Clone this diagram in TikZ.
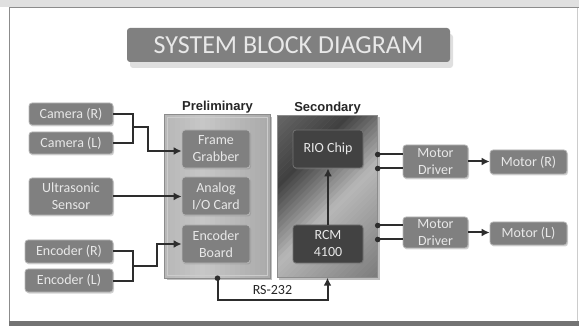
\documentclass[tikz,border=0pt]{standalone}
\usepackage{fontspec}
\newfontfamily\carlito{Carlito}
\newfontfamily\arialfont{Liberation Sans}
\usetikzlibrary{calc,shadows,arrows.meta}
\definecolor{wireGray}{RGB}{45,45,45}
\definecolor{textLight}{RGB}{232,232,232}

\tikzset{
    sz/.style 2 args={minimum width=#1, minimum height=#2},
    blk/.style={rounded corners=3pt, draw=black!28, line width=.8pt, fill=black!50,
        text=textLight, font=\carlito\fontsize{14}{17}\selectfont, align=center, inner sep=0pt,
        drop shadow={shadow xshift=1pt, shadow yshift=-1.5pt, opacity=.35}},
    dblk/.style={blk, fill=black!74, draw=black!55},
    panel/.style={inner sep=0pt},
    pframe/.style={draw=black!45, line width=1pt},
    pshadow/.style={fill=black, opacity=.25},
    plabel/.style={font=\arialfont\bfseries\fontsize{13}{13}\selectfont, text=black!85, inner sep=1pt},
    wire/.style={draw=wireGray, line width=2pt},
    arr/.style={wire, -{Latex[length=8pt,width=8pt]}},
    dot/.style={fill=wireGray}
}

\begin{document}
\begin{tikzpicture}[x=1pt, y=1pt]
    \useasboundingbox (0,0) rectangle (579,-326);
    % outer frame
    \fill[black!12] (0,0) rectangle (579,-7);
    \draw[black!45, line width=1pt] (9,-326) -- (9,-8) -- (579,-8);
    \fill[black!55] (9,-321) rectangle (579,-326);
    \draw[black!20] (577,-8) -- (577,-321);

    % title
    \node[rounded corners=3pt, fill=black!50, text=textLight, sz={323pt}{34pt},
        font=\carlito\fontsize{26}{26}\selectfont,
        drop shadow={shadow xshift=3pt, shadow yshift=-6pt, opacity=.25}] (title) at (288.5,-45) {SYSTEM BLOCK DIAGRAM};

    % panels
    \node[panel, sz={105pt}{163pt}] (prelim) at (217.5,-196.5) {};
    \node[panel, sz={100pt}{162pt}] (second) at (327.5,-196.5) {};
    \fill[pshadow] ([shift={(2,-2)}]prelim.south west) rectangle ([shift={(2,-2)}]prelim.north east);
    \fill[pshadow] ([shift={(2,-2)}]second.south west) rectangle ([shift={(2,-2)}]second.north east);

    % preliminary: light grey, slightly brighter on the left
    \begin{scope}
        \clip (prelim.south west) rectangle (prelim.north east);
        \foreach \i in {0,...,21} {
            \pgfmathsetmacro{\c}{22+12*abs(\i-7)/14}
            \fill[black!\c] ($(prelim.south west)+(5*\i,0)$) rectangle ($(prelim.north west)+(5*\i+5.4,0)$);
        }
    \end{scope}
    \draw[white!80!black, line width=1pt] ([shift={(3,3)}]prelim.south west) rectangle ([shift={(-3,-3)}]prelim.north east);
    \draw[pframe] (prelim.south west) rectangle (prelim.north east);

    % secondary: dark, with a light diagonal band
    \begin{scope}
        \clip (second.south west) rectangle (second.north east);
        \begin{scope}[shift={(second.center)}, rotate=45]
            \foreach \i in {0,...,47} {
                \pgfmathsetmacro{\s}{-96+4*\i}
                \pgfmathsetmacro{\c}{\s<-14 ? 52-24*(\s+96)/82 : (\s<40 ? 28+47*(\s+14)/54 : 75-17*(\s-40)/56)}
                \fill[black!\c] (-130,\s) rectangle (130,\s+4.4);
            }
        \end{scope}
    \end{scope}
    \draw[pframe] (second.south west) rectangle (second.north east);

    \node[plabel, above] at (prelim.north) {Preliminary};
    \node[plabel, above] at (second.north) {Secondary};

    % inputs
    \node[blk, sz={84pt}{22pt}] (camR) at (71,-114) {Camera (R)};
    \node[blk, sz={84pt}{22pt}] (camL) at (71,-143) {Camera (L)};
    \node[blk, sz={84pt}{37pt}] (ultra) at (71,-196.5) {Ultrasonic\\Sensor};
    \node[blk, sz={88pt}{23pt}] (encR) at (69,-251.5) {Encoder (R)};
    \node[blk, sz={88pt}{23pt}] (encL) at (69,-280.5) {Encoder (L)};

    % preliminary boards
    \node[blk, sz={68pt}{38pt}] (frame) at (216,-149) {Frame\\Grabber};
    \node[blk, sz={68pt}{38pt}] (analog) at (216,-196) {Analog\\I/O Card};
    \node[blk, sz={68pt}{38pt}] (encb) at (216,-244) {Encoder\\Board};

    % secondary
    \node[dblk, sz={70pt}{38pt}] (rio) at (328,-149) {RIO Chip};
    \node[dblk, sz={70pt}{38pt}] (rcm) at (328,-244) {RCM\\4100};

    % outputs
    \node[blk, sz={65pt}{33pt}] (drvR) at (435.5,-161.5) {Motor\\Driver};
    \node[blk, sz={65pt}{31pt}] (drvL) at (435.5,-232.5) {Motor\\Driver};
    \node[blk, sz={77pt}{24pt}] (motR) at (528.5,-162) {Motor (R)};
    \node[blk, sz={77pt}{23pt}] (motL) at (528.5,-233.5) {Motor (L)};

    % junctions
    \coordinate (camJ) at (133,-127);
    \coordinate (camK) at (148,-127);
    \coordinate (encJ) at (133,-266);
    \coordinate (encK) at (157,-266);
    \coordinate (rsC) at ($(prelim.south)+(0,-22)$);
    \coordinate (oR1) at ($(second.east |- drvR.west)+(0,7)$);
    \coordinate (oR2) at ($(second.east |- drvR.west)+(0,-7)$);
    \coordinate (oL1) at ($(second.east |- drvL.west)+(0,7)$);
    \coordinate (oL2) at ($(second.east |- drvL.west)+(0,-7)$);

    \draw[wire] (camR.east) -| (camJ) |- (camL.east);
    \draw[arr] (camJ) -- (camK) |- ([yshift=-2pt]frame.west);
    \draw[arr] (ultra.east) -- (ultra.east -| analog.west);
    \draw[wire] (encR.east) -| (encJ) |- (encL.east);
    \draw[arr] (encJ) -- (encK) |- (encb.west);

    \draw[arr] (rcm.north) -- (rio.south);
    \draw[arr] (prelim.south) -- (rsC) -| (second.south)
        node[pos=.25, above=1pt, font=\carlito\fontsize{14}{14}\selectfont, text=black!85] {RS-232};
    \fill[dot] (prelim.south) circle (2.8pt);

    \foreach \p/\d in {oR1/drvR, oR2/drvR, oL1/drvL, oL2/drvL} {
        \draw[wire] (\p) -- (\p -| \d.west);
        \fill[dot] (\p) circle (2.8pt);
    }
    \draw[arr] (drvR.east) -- (drvR.east -| motR.west);
    \draw[arr] (drvL.east) -- (drvL.east -| motL.west);
\end{tikzpicture}
\end{document}
